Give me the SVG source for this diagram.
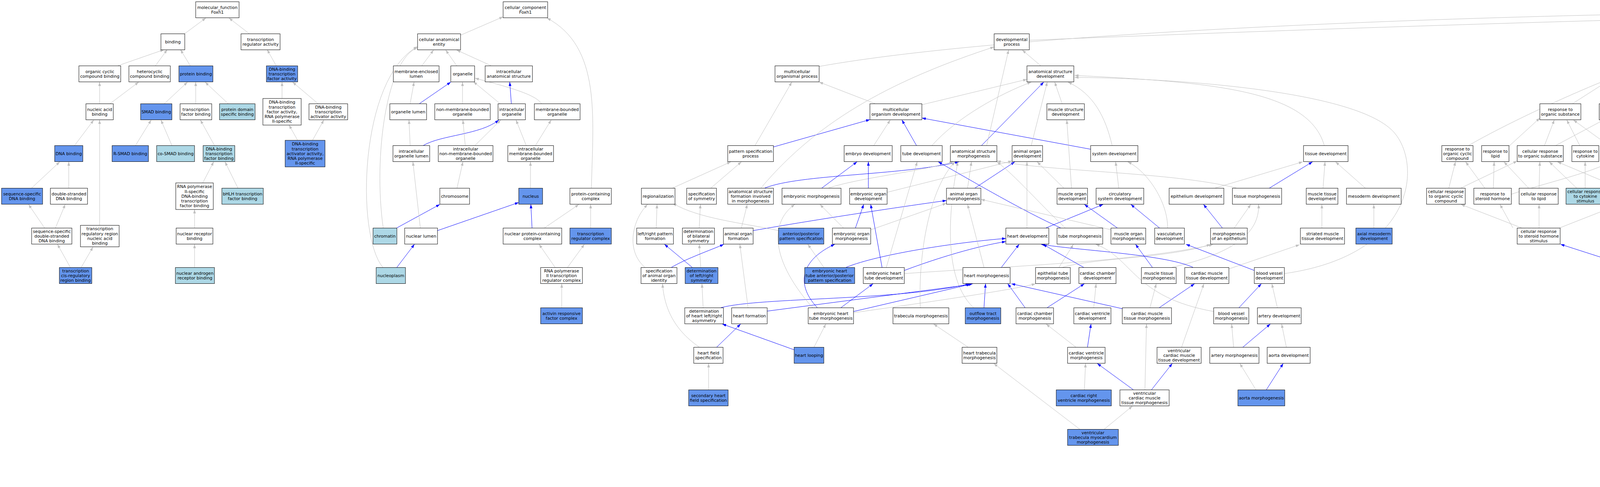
<svg xmlns="http://www.w3.org/2000/svg" width="7680" height="1246" viewBox="0 0 7680 1246">
<style>
rect{fill:#fff;stroke:#000;stroke-width:1}
rect.c{fill:#6495ed}
rect.l{fill:#add8e6}
text{font-family:"DejaVu Sans",Verdana,sans-serif;font-size:10.8px;text-anchor:middle;fill:#000}
#edges path{fill:none;stroke-width:1}
.g{stroke:#c0c0c0;marker-end:url(#mg)}
.b{stroke:#0000ff;marker-end:url(#mb)}
.k{stroke:#000;marker-end:url(#mk)}
.r{stroke:#b22222;marker-end:url(#mr)}
.n{stroke:#228b22;marker-end:url(#mn)}
</style>
<defs>
<marker id="mg" viewBox="0 0 10 7" refX="10" refY="3.5" markerWidth="10" markerHeight="7" markerUnits="userSpaceOnUse" orient="auto"><path d="M0,0L10,3.5L0,7z" fill="#c0c0c0"/></marker>
<marker id="mb" viewBox="0 0 10 7" refX="10" refY="3.5" markerWidth="10" markerHeight="7" markerUnits="userSpaceOnUse" orient="auto"><path d="M0,0L10,3.5L0,7z" fill="#0000ff"/></marker>
<marker id="mk" viewBox="0 0 10 7" refX="10" refY="3.5" markerWidth="10" markerHeight="7" markerUnits="userSpaceOnUse" orient="auto"><path d="M0,0L10,3.5L0,7z" fill="#000"/></marker>
<marker id="mr" viewBox="0 0 10 7" refX="10" refY="3.5" markerWidth="10" markerHeight="7" markerUnits="userSpaceOnUse" orient="auto"><path d="M0,0L10,3.5L0,7z" fill="#b22222"/></marker>
<marker id="mn" viewBox="0 0 10 7" refX="10" refY="3.5" markerWidth="10" markerHeight="7" markerUnits="userSpaceOnUse" orient="auto"><path d="M0,0L10,3.5L0,7z" fill="#228b22"/></marker>
</defs>
<rect x="0" y="0" width="7680" height="1246" style="stroke:none;fill:#fff"/>
<g id="edges">
<path class="g" d="M473,86L527,46"/>
<path class="g" d="M638,86L586,46"/>
<path class="g" d="M302,168L420,127"/>
<path class="g" d="M398,168L428,127"/>
<path class="g" d="M487,168L462,127"/>
<path class="g" d="M707,168L684,127"/>
<path class="g" d="M255,265L255,210"/>
<path class="g" d="M282,265L355,210"/>
<path class="g" d="M421,265L480,210"/>
<path class="g" d="M501,265L501,210"/>
<path class="g" d="M584,265L525,210"/>
<path class="g" d="M722,252L722,210"/>
<path class="g" d="M814,265L749,210"/>
<path class="g" d="M191,372L240,307"/>
<path class="g" d="M255,576L255,307"/>
<path class="g" d="M347,372L387,307"/>
<path class="g" d="M440,372L412,307"/>
<path class="g" d="M549,372L513,307"/>
<path class="g" d="M762,359L740,320"/>
<path class="g" d="M800,359L829,307"/>
<path class="g" d="M81,481L153,414"/>
<path class="g" d="M176,481L176,414"/>
<path class="g" d="M519,468L547,414"/>
<path class="g" d="M609,481L576,414"/>
<path class="g" d="M114,583L73,523"/>
<path class="g" d="M142,583L167,523"/>
<path class="g" d="M498,583L498,536"/>
<path class="g" d="M180,684L147,625"/>
<path class="g" d="M208,684L238,632"/>
<path class="g" d="M498,684L498,625"/>
<path class="g" d="M1179,90L1288,43"/>
<path class="g" d="M1080,168L1110,128"/>
<path class="g" d="M1169,168L1141,128"/>
<path class="g" d="M1257,168L1169,128"/>
<path class="g" d="M1050,265L1060,210"/>
<path class="b" d="M1074,265L1154,210"/>
<path class="g" d="M1184,265L1184,210"/>
<path class="g" d="M1280,265L1212,209"/>
<path class="g" d="M1386,265C1370,240 1290,220 1216,200"/>
<path class="b" d="M1309,265L1305,210"/>
<path class="g" d="M1050,372L1047,307"/>
<path class="b" d="M1084,372C1130,345 1230,345 1277,307"/>
<path class="g" d="M1191,372L1185,307"/>
<path class="g" d="M1216,372L1282,307"/>
<path class="g" d="M1170,481L1185,414"/>
<path class="b" d="M1016,583L1126,523"/>
<path class="g" d="M981,583C955,400 990,150 1069,122"/>
<path class="g" d="M1076,583L1057,414"/>
<path class="b" d="M1120,590L1328,518"/>
<path class="b" d="M1016,684L1061,625"/>
<path class="g" d="M980,684C910,600 920,200 1069,119"/>
<path class="g" d="M1514,481C1518,300 1540,120 1400,46"/>
<path class="g" d="M1347,372L1321,307"/>
<path class="g" d="M1371,372L1411,307"/>
<path class="g" d="M1358,481L1358,414"/>
<path class="b" d="M1362,583L1359,523"/>
<path class="g" d="M1394,583L1482,523"/>
<path class="g" d="M1512,583L1512,523"/>
<path class="g" d="M1421,684L1380,625"/>
<path class="g" d="M1453,684L1496,625"/>
<path class="g" d="M1438,787L1438,726"/>
<path class="g" d="M2097,170C2600,80 3800,35 4741,28"/>
<path class="g" d="M2635,103C3500,68 4300,45 4741,37"/>
<path class="g" d="M1933,372L2027,210"/>
<path class="g" d="M2240,265L2097,210"/>
<path class="g" d="M2360,268L2629,203"/>
<path class="b" d="M1980,376L2227,306"/>
<path class="g" d="M2237,372L2279,307"/>
<path class="b" d="M2346,372L2309,307"/>
<path class="b" d="M2793,382L2360,302"/>
<path class="b" d="M2513,372L2672,210"/>
<path class="g" d="M2386,372C2450,300 2560,240 2640,210"/>
<path class="g" d="M2526,372L2582,128"/>
<path class="g" d="M1948,481C2100,300 2300,200 2545,120"/>
<path class="g" d="M2664,168L2617,128"/>
<path class="g" d="M1722,481L1871,414"/>
<path class="g" d="M1820,481L1898,414"/>
<path class="b" d="M1958,481C2050,445 2300,450 2455,414"/>
<path class="b" d="M2104,481L2194,414"/>
<path class="g" d="M2121,481C2200,455 2350,440 2440,414"/>
<path class="b" d="M2223,481L2223,414"/>
<path class="g" d="M2271,492L2591,412"/>
<path class="g" d="M2477,481L2487,414"/>
<path class="b" d="M2496,481L2598,414"/>
<path class="g" d="M1680,583L1682,523"/>
<path class="g" d="M1790,583L1793,523"/>
<path class="g" d="M1898,583L1913,523"/>
<path class="b" d="M1928,590C2100,560 2300,530 2423,513"/>
<path class="g" d="M1993,590C1900,570 1790,560 1722,520"/>
<path class="b" d="M2190,583L2211,523"/>
<path class="g" d="M2159,583L2099,523"/>
<path class="g" d="M2229,588L2423,520"/>
<path class="g" d="M1651,684C1600,640 1620,560 1658,523"/>
<path class="b" d="M1772,684L1701,625"/>
<path class="g" d="M1794,684L1790,625"/>
<path class="b" d="M1719,684C1760,660 1820,640 1853,625"/>
<path class="g" d="M2109,684L2068,625"/>
<path class="b" d="M2166,684C2250,650 2450,620 2575,610"/>
<path class="g" d="M2269,684L2348,414"/>
<path class="b" d="M2315,692C2400,660 2500,630 2575,618"/>
<path class="b" d="M2258,684L2229,523"/>
<path class="g" d="M2519,684L2477,523"/>
<path class="b" d="M2562,686L2609,625"/>
<path class="b" d="M2519,787L2523,726"/>
<path class="g" d="M2492,787C2400,700 2440,480 2452,414"/>
<path class="b" d="M1846,787C1950,760 2300,770 2482,726"/>
<path class="b" d="M1964,796L2485,728"/>
<path class="b" d="M2185,797L2490,726"/>
<path class="b" d="M2153,787L2235,726"/>
<path class="b" d="M2092,787C2030,720 2060,660 2137,625"/>
<path class="g" d="M2080,787C1960,650 1980,560 2035,523"/>
<path class="g" d="M2185,800C2400,770 2600,740 2651,726"/>
<path class="g" d="M1800,787L1797,726"/>
<path class="g" d="M1915,787L1894,625"/>
<path class="g" d="M1790,888C1720,840 1700,780 1696,726"/>
<path class="b" d="M1835,888L1896,829"/>
<path class="b" d="M2033,895L1849,829"/>
<path class="g" d="M2084,888L2114,829"/>
<path class="g" d="M1814,997L1814,930"/>
<path class="g" d="M2356,787C2350,650 2380,480 2445,414"/>
<path class="g" d="M2478,888L2390,829"/>
<path class="g" d="M2764,1098L2544,930"/>
<path class="g" d="M2827,1098L2899,1039"/>
<path class="g" d="M2315,700C2600,680 2900,670 3105,626"/>
<path class="g" d="M2719,265L2700,210"/>
<path class="g" d="M2640,372L2681,210"/>
<path class="g" d="M2847,372C2830,300 2800,240 2734,210"/>
<path class="g" d="M3390,372C3350,230 3100,210 2751,193"/>
<path class="g" d="M3288,700C3640,650 3640,400 3560,330C3450,230 3000,200 2751,198"/>
<path class="g" d="M2723,481L2655,414"/>
<path class="g" d="M2743,481L2731,307"/>
<path class="g" d="M2864,481L2856,414"/>
<path class="b" d="M2968,583L2895,523"/>
<path class="g" d="M2989,583C2990,520 2940,440 2887,414"/>
<path class="g" d="M2629,583L2629,414"/>
<path class="b" d="M2678,583L2824,523"/>
<path class="b" d="M2715,583C2620,540 2500,470 2402,414"/>
<path class="g" d="M2727,583C2660,520 2600,450 2552,414"/>
<path class="b" d="M2860,583L2776,523"/>
<path class="g" d="M2845,588L2511,510"/>
<path class="g" d="M3111,481L3335,414"/>
<path class="b" d="M3250,481L3360,414"/>
<path class="g" d="M3165,481C3000,440 2700,440 2552,412"/>
<path class="g" d="M3387,481L3392,414"/>
<path class="g" d="M3495,481L3419,414"/>
<path class="b" d="M3129,583L3081,523"/>
<path class="g" d="M3160,583L3202,523"/>
<path class="g" d="M3384,583L3384,523"/>
<path class="g" d="M3517,583L3517,523"/>
<path class="g" d="M2711,684L2748,625"/>
<path class="g" d="M2720,684C2800,660 3000,660 3099,625"/>
<path class="b" d="M2774,684L2670,625"/>
<path class="b" d="M2950,684L2907,625"/>
<path class="g" d="M3000,684C3150,650 3225,600 3222,523"/>
<path class="b" d="M3054,684C2980,650 2750,640 2665,625"/>
<path class="g" d="M3146,688L3327,626"/>
<path class="b" d="M3211,692L3036,625"/>
<path class="b" d="M2624,787L2580,726"/>
<path class="b" d="M2681,787L2776,726"/>
<path class="g" d="M2800,787L2806,726"/>
<path class="b" d="M2874,790L2589,726"/>
<path class="b" d="M2968,787L3058,726"/>
<path class="g" d="M2944,787L2960,726"/>
<path class="b" d="M3172,787L3229,726"/>
<path class="g" d="M3107,797C2900,760 2900,660 2805,625"/>
<path class="g" d="M3270,787L3256,726"/>
<path class="g" d="M2754,888L2678,829"/>
<path class="b" d="M2784,888L2793,829"/>
<path class="g" d="M3025,888L3082,726"/>
<path class="g" d="M3158,888L3153,829"/>
<path class="b" d="M3182,888L3252,829"/>
<path class="g" d="M3293,888L3281,829"/>
<path class="g" d="M2776,997L2779,930"/>
<path class="b" d="M2901,997L2809,930"/>
<path class="b" d="M2948,997L3001,930"/>
<path class="g" d="M2931,997L2935,829"/>
<path class="g" d="M3215,997L3174,930"/>
<path class="b" d="M3242,997L3285,930"/>
<path class="g" d="M3709,481L3726,414"/>
<path class="g" d="M3740,481L3884,412"/>
<path class="g" d="M3801,481L3752,414"/>
<path class="g" d="M3823,481L3825,414"/>
<path class="g" d="M3869,497C3950,470 4080,440 4122,414"/>
<path class="g" d="M3760,372C3850,320 4000,250 4109,206"/>
<path class="g" d="M3863,374L3942,302"/>
<path class="g" d="M4546,94L4741,44"/>
<path class="g" d="M4860,86L4820,46"/>
<path class="g" d="M5030,91L4848,44"/>
<path class="g" d="M4178,180L4478,117"/>
<path class="g" d="M4613,168L4547,128"/>
<path class="g" d="M4696,178L5030,117"/>
<path class="g" d="M4848,168L4870,128"/>
<path class="k" d="M4815,168L4799,46"/>
<path class="r" d="M4789,265C4740,200 4740,100 4778,46"/>
<path class="n" d="M5349,265C5250,170 5150,60 4847,27"/>
<path class="g" d="M4026,265L4112,210"/>
<path class="g" d="M4143,265L4143,210"/>
<path class="g" d="M4192,263C4300,230 4500,210 4597,194"/>
<path class="g" d="M4326,265L4489,128"/>
<path class="k" d="M4474,265L4505,128"/>
<path class="g" d="M4507,270L4767,203"/>
<path class="g" d="M4693,270C4800,220 4950,160 5040,127"/>
<path class="g" d="M4815,265L4815,210"/>
<path class="g" d="M5038,265L5067,128"/>
<path class="k" d="M5148,265L5090,128"/>
<path class="g" d="M5112,272L4870,203"/>
<path class="r" d="M5200,372C5225,300 5200,200 5115,128"/>
<path class="n" d="M5315,372C5270,280 5200,180 5122,122"/>
<path class="g" d="M3954,372L3979,307"/>
<path class="g" d="M3983,372L4105,307"/>
<path class="g" d="M4044,372L4011,307"/>
<path class="g" d="M4118,372L4028,307"/>
<path class="g" d="M4177,372L4269,307"/>
<path class="g" d="M4264,372L4289,307"/>
<path class="g" d="M4352,372L4318,307"/>
<path class="g" d="M4513,372L4485,307"/>
<path class="r" d="M4522,372L4512,128"/>
<path class="g" d="M4580,375L4758,295"/>
<path class="k" d="M4677,372L4669,307"/>
<path class="g" d="M4707,480C4600,440 4430,420 4455,307"/>
<path class="b" d="M4809,372L4690,307"/>
<path class="b" d="M4809,372C4740,300 4760,260 4668,210"/>
<path class="b" d="M4874,372L4999,307"/>
<path class="g" d="M4856,372L5056,128"/>
<path class="k" d="M5052,372L5040,307"/>
<path class="g" d="M3940,481L3942,414"/>
<path class="g" d="M3913,481L3850,414"/>
<path class="g" d="M4058,481L4058,414"/>
<path class="g" d="M4036,481L3966,414"/>
<path class="g" d="M4179,481L4158,414"/>
<path class="g" d="M4200,481L4240,414"/>
<path class="g" d="M4146,481L3987,414"/>
<path class="g" d="M4327,481L4354,414"/>
<path class="g" d="M4305,481L4269,414"/>
<path class="g" d="M4411,475L4379,414"/>
<path class="g" d="M4603,481L4662,414"/>
<path class="r" d="M4593,481L4653,307"/>
<path class="g" d="M4632,481L4800,307"/>
<path class="g" d="M4746,481L4699,414"/>
<path class="k" d="M4779,481L4824,414"/>
<path class="g" d="M4817,481L5003,414"/>
<path class="g" d="M4950,481L4865,414"/>
<path class="g" d="M5164,481L5180,414"/>
<path class="r" d="M5110,481C4990,420 4990,340 5016,307"/>
<path class="g" d="M5120,481L5081,414"/>
<path class="g" d="M3940,583L3940,523"/>
<path class="g" d="M3993,583L4146,523"/>
<path class="g" d="M3873,583L3840,523"/>
<path class="g" d="M3895,583L3740,523"/>
<path class="b" d="M4235,583L4202,523"/>
<path class="g" d="M4301,590C4600,560 4640,500 4793,414"/>
<path class="g" d="M4428,576L4428,530"/>
<path class="g" d="M4402,576L4344,523"/>
<path class="g" d="M4775,583L4768,523"/>
<path class="r" d="M4799,583C4810,520 4830,460 4840,414"/>
<path class="g" d="M4738,583L4628,523"/>
<path class="g" d="M4842,590L5093,521"/>
<path class="g" d="M4718,594C4550,560 4510,500 4513,414"/>
<path class="g" d="M4975,583L4975,523"/>
<path class="g" d="M4246,684L4246,625"/>
<path class="b" d="M4191,688L3995,625"/>
<path class="g" d="M4762,692C4860,660 4860,500 4853,414"/>
<path class="g" d="M4971,671L4973,625"/>
<path class="g" d="M4710,780L4710,726"/>
<path class="g" d="M4658,792L4301,720"/>
<path class="b" d="M4902,780C4800,680 4600,620 4478,607"/>
<path class="g" d="M4936,780L4950,739"/>
<path class="g" d="M4575,888L4662,836"/>
<path class="k" d="M4678,875L4697,836"/>
<path class="g" d="M4652,875C4630,720 4640,600 4738,523"/>
<path class="g" d="M4844,888L4756,836"/>
<path class="k" d="M4603,997L4556,930"/>
<path class="g" d="M4628,997L4651,943"/>
<path class="g" d="M4722,984L4693,943"/>
<path class="r" d="M4744,984L4719,836"/>
<path class="g" d="M4754,984L4779,625"/>
<path class="k" d="M4877,990L4877,930"/>
<path class="g" d="M4828,990L4718,939"/>
<path class="r" d="M4585,1091C4540,1050 4538,980 4538,930"/>
<path class="g" d="M4618,1091L4618,1039"/>
<path class="g" d="M4653,1091L4705,1052"/>
<path class="g" d="M4878,1091L4878,1046"/>
<path class="g" d="M4824,1091L4791,1052"/>
<path class="r" d="M4912,1091C4960,1020 4940,960 4905,930"/>
<path class="g" d="M5951,1017C5500,1015 5250,980 5120,891C5060,840 5050,720 5035,600C5010,400 4900,200 4886,128"/>
<path class="g" d="M5990,102C5600,70 5200,50 4847,38"/>
<path class="g" d="M6108,168L6067,128"/>
<path class="g" d="M6075,185L5122,112"/>
<path class="g" d="M6200,169L6100,128"/>
<path class="k" d="M5865,265L6020,128"/>
<path class="g" d="M5788,274L4870,198"/>
<path class="g" d="M5977,265L6034,128"/>
<path class="g" d="M6251,265L6165,210"/>
<path class="g" d="M5185,372L5165,307"/>
<path class="g" d="M5135,380L4870,300"/>
<path class="g" d="M5291,372L5193,307"/>
<path class="g" d="M5332,372L5357,307"/>
<path class="g" d="M5549,374L5788,303"/>
<path class="n" d="M5504,372C5600,250 5800,150 5990,115"/>
<path class="g" d="M5471,372L5392,307"/>
<path class="g" d="M5701,372L5808,307"/>
<path class="g" d="M5612,378L5202,303"/>
<path class="k" d="M5671,372C5720,260 5800,210 6075,197"/>
<path class="k" d="M5781,372C5740,280 5800,215 6205,208"/>
<path class="n" d="M5448,481C5400,400 5420,300 5600,260C5800,220 6000,200 6075,193"/>
<path class="r" d="M5640,481C5580,400 5600,280 5800,230C5950,205 6020,195 6075,192"/>
<path class="r" d="M6053,372L6045,128"/>
<path class="g" d="M6010,372L5875,307"/>
<path class="g" d="M5904,372L5859,307"/>
<path class="k" d="M5932,372L5961,307"/>
<path class="g" d="M5804,372L5830,307"/>
<path class="g" d="M6318,372L6296,307"/>
<path class="g" d="M6345,372L6400,307"/>
<path class="g" d="M6261,378L6022,302"/>
<path class="g" d="M5496,481L5496,414"/>
<path class="g" d="M5447,481L5357,414"/>
<path class="g" d="M5516,481L5630,414"/>
<path class="g" d="M5667,481L5665,414"/>
<path class="g" d="M5612,486L5234,414"/>
<path class="g" d="M5724,481L6014,414"/>
<path class="g" d="M5802,474L5796,414"/>
<path class="g" d="M5747,474L5549,414"/>
<path class="n" d="M5860,474C6000,450 6150,420 6180,330C6200,270 6215,230 6240,210"/>
<path class="g" d="M5928,474L5830,414"/>
<path class="k" d="M6014,476L6261,414"/>
<path class="g" d="M5944,474L5932,414"/>
<path class="g" d="M6090,474L6067,414"/>
<path class="r" d="M6155,474C6220,400 6210,300 6240,210"/>
<path class="g" d="M6042,477L5830,414"/>
<path class="g" d="M5887,576L5842,530"/>
<path class="g" d="M5930,576L5940,530"/>
<path class="n" d="M5993,587C6150,560 6200,480 6285,414"/>
<path class="g" d="M5849,593L5536,523"/>
<path class="g" d="M6083,576L6002,530"/>
<path class="g" d="M6120,576L6112,530"/>
<path class="r" d="M6169,576L6310,414"/>
<path class="g" d="M6436,790L5993,634"/>
<path class="g" d="M6570,788L6202,634"/>
<path class="g" d="M6473,705C6100,690 5985,600 5975,531"/>
<path class="g" d="M6331,595C6000,560 5700,500 5549,414"/>
<path class="g" d="M6460,590C6300,560 6200,450 6111,414"/>
<path class="g" d="M6359,492C6200,450 6000,420 5893,306"/>
<path class="g" d="M6814,490C6400,445 5900,430 5716,412"/>
<path class="g" d="M6530,481L6360,414"/>
<path class="g" d="M6047,1186L6018,1140"/>
<path class="g" d="M6083,1186L6106,1146"/>
<path class="g" d="M6006,1098L6006,1039"/>
<path class="g" d="M6091,1091L6030,1039"/>
<path class="g" d="M6164,1119C6700,1115 7250,1090 7380,1039"/>
<path class="g" d="M6766,181L6096,112"/>
<path class="g" d="M7024,180C6600,150 6300,125 6096,118"/>
<path class="g" d="M6502,270L6311,206"/>
<path class="g" d="M6520,265L6179,205"/>
<path class="g" d="M6727,265L6796,210"/>
<path class="g" d="M6890,265L7024,208"/>
<path class="g" d="M6785,274L6179,203"/>
<path class="g" d="M6967,265L6857,210"/>
<path class="g" d="M7029,265L7051,210"/>
<path class="g" d="M6420,372L6296,307"/>
<path class="g" d="M6430,372L6802,307"/>
<path class="g" d="M6514,372L6449,307"/>
<path class="g" d="M6563,372L6800,307"/>
<path class="g" d="M6678,372L6592,307"/>
<path class="g" d="M6735,372L6806,307"/>
<path class="g" d="M6830,372L6735,307"/>
<path class="g" d="M6894,372L6988,307"/>
<path class="k" d="M7069,372C7130,320 7120,250 7090,210"/>
<path class="g" d="M6997,380C6600,340 6100,310 5893,300"/>
<path class="g" d="M7430,481C7410,400 7300,340 7071,293"/>
<path class="g" d="M7270,372C7100,330 6950,260 6840,210"/>
<path class="g" d="M7264,385C6800,330 6300,320 6021,298"/>
<path class="g" d="M7214,495C6800,440 6500,430 6390,412"/>
<path class="g" d="M7278,481L7302,414"/>
<path class="g" d="M7427,481L7370,414"/>
<path class="g" d="M7506,481L7370,414"/>
<path class="r" d="M6572,587C6900,565 7200,560 7330,414"/>
<path class="k" d="M6465,495C6600,430 6900,440 7264,405"/>
<path class="n" d="M6437,587C6800,560 7100,520 7290,414"/>
<path class="r" d="M7077,481C7140,440 7130,260 7097,210"/>
<path class="k" d="M6914,481C7090,440 7080,330 6880,307"/>
<path class="n" d="M6731,481C6960,440 6920,350 7090,330C7100,280 7080,240 7070,210"/>
<path class="k" d="M6726,588C6900,570 7300,560 7394,523"/>
<path class="n" d="M6898,580C7100,510 7100,330 6880,307"/>
<path class="r" d="M7074,590C7160,480 7110,330 6880,307"/>
<path class="g" d="M7267,583L7267,523"/>
<path class="k" d="M7482,583L7527,523"/>
<path class="g" d="M7419,592C7000,560 6700,540 6465,510"/>
<path class="k" d="M6560,690C6700,650 7100,630 7224,614"/>
<path class="n" d="M6736,698C6900,660 7300,600 7394,523"/>
<path class="r" d="M7045,680C7200,600 7350,560 7400,523"/>
<path class="g" d="M7267,684L7267,625"/>
<path class="g" d="M7286,684L7404,523"/>
<path class="n" d="M6539,788C7000,775 7060,700 7224,618"/>
<path class="r" d="M6678,800C7000,770 7100,720 7248,625"/>
<path class="k" d="M6972,794L7217,724"/>
<path class="n" d="M6914,888L7229,726"/>
<path class="r" d="M7094,888C7220,840 7250,800 7264,726"/>
<path class="g" d="M7331,787L7286,726"/>
<path class="b" d="M7347,787C7350,650 7400,560 7502,523"/>
<path class="k" d="M7271,888L7328,829"/>
<path class="g" d="M7184,895L6975,829"/>
<path class="g" d="M7486,888L7384,829"/>
<path class="n" d="M7104,997C7130,900 7200,850 7282,829"/>
<path class="g" d="M7129,997L7220,930"/>
<path class="g" d="M7086,997L6914,930"/>
<path class="r" d="M7287,997C7340,940 7347,880 7347,829"/>
<path class="g" d="M7257,997L7253,930"/>
<path class="g" d="M7208,990L7086,930"/>
<path class="g" d="M7371,997L7282,930"/>
<path class="k" d="M7424,997L7498,930"/>
<path class="g" d="M7408,997L7461,625"/>
<path class="g" d="M7592,997L7539,930"/>
<path class="g" d="M7233,1105L7139,1039"/>
<path class="g" d="M7310,1098L7371,1039"/>
<path class="n" d="M7331,1100C7440,1060 7490,1000 7511,930"/>
<path class="g" d="M7371,1098L7298,1039"/>
<path class="g" d="M7412,1098L7407,1039"/>
<path class="r" d="M7451,1098C7510,1040 7520,980 7520,930"/>
<path class="k" d="M7599,1091L7608,1039"/>
<path class="g" d="M7543,1091L7440,1039"/>
<path class="n" d="M7489,1186C7500,1130 7540,1090 7580,1039"/>
<path class="g" d="M7515,1186L7563,1147"/>
<path class="g" d="M7427,1189L7331,1140"/>
<path class="r" d="M7640,1186C7670,1130 7670,1080 7630,1039"/>
<path class="g" d="M7611,1186L7602,1147"/>
<path class="g" d="M7562,1186L7467,1140"/>
<path class="g" d="M6510,481L6460,414"/>
<path class="g" d="M6560,481L6563,414"/>
<path class="g" d="M6600,481L6680,414"/>
<path class="g" d="M6731,481L6999,414"/>
<path class="g" d="M7033,481L7041,414"/>
<path class="g" d="M6860,481L7010,414"/>
<path class="g" d="M6792,576L6731,523"/>
<path class="g" d="M6853,576L6861,523"/>
<path class="g" d="M6980,576L6906,523"/>
<path class="g" d="M7029,576L7045,523"/>
<path class="g" d="M6681,677L6681,632"/>
<path class="g" d="M6955,677L6726,632"/>
<path class="g" d="M6922,787C6930,700 6910,600 6898,523"/>
<path class="g" d="M6873,794L6560,722"/>
<path class="g" d="M6882,888L6910,829"/>
<path class="g" d="M6857,888L6706,732"/>
<path class="g" d="M6816,899L6539,829"/>
<path class="g" d="M7008,888L6949,829"/>
<path class="g" d="M7037,888L7016,732"/>
<path class="g" d="M6987,899L6678,819"/>
<path class="g" d="M6496,787L6506,726"/>
<path class="g" d="M6596,787L6540,726"/>
</g>
<g id="n1"><rect x="501" y="4.5" width="111" height="41"/><text x="556.5" y="22.7">molecular_function<tspan x="556.5" dy="12.3">Foxh1</tspan></text></g>
<g id="n2"><rect x="412" y="86.5" width="61" height="41"/><text x="442.5" y="110.8">binding</text></g>
<g id="n3"><rect x="617" y="86.5" width="100" height="41"/><text x="667" y="104.7">transcription<tspan x="667" dy="12.3">regulator activity</tspan></text></g>
<g id="n4"><rect x="202" y="168.5" width="107" height="41"/><text x="255.5" y="186.7">organic cyclic<tspan x="255.5" dy="12.3">compound binding</tspan></text></g>
<g id="n5"><rect x="330" y="168.5" width="106" height="41"/><text x="383" y="186.7">heterocyclic<tspan x="383" dy="12.3">compound binding</tspan></text></g>
<g id="n6"><rect class="c" x="458" y="168.5" width="87" height="41"/><text x="501.5" y="192.8">protein binding</text></g>
<g id="n7"><rect class="c" x="682" y="168.5" width="80" height="41"/><text x="722" y="180.5">DNA-binding<tspan x="722" dy="12.3">transcription</tspan><tspan x="722" dy="12.3">factor activity</tspan></text></g>
<g id="n8"><rect x="1069" y="86.5" width="110" height="41"/><text x="1124" y="104.7">cellular anatomical<tspan x="1124" dy="12.3">entity</tspan></text></g>
<g id="n9"><rect x="1007" y="168.5" width="117" height="41"/><text x="1065.5" y="186.7">membrane-enclosed<tspan x="1065.5" dy="12.3">lumen</tspan></text></g>
<g id="n10"><rect x="1154" y="168.5" width="61" height="41"/><text x="1184.5" y="192.8">organelle</text></g>
<g id="n11"><rect x="1242" y="168.5" width="121" height="41"/><text x="1302.5" y="186.7">intracellular<tspan x="1302.5" dy="12.3">anatomical structure</tspan></text></g>
<g id="n12"><rect x="220" y="265.5" width="70" height="41"/><text x="255" y="283.7">nucleic acid<tspan x="255" dy="12.3">binding</tspan></text></g>
<g id="n13"><rect class="c" x="360" y="265.5" width="80" height="41"/><text x="400" y="289.8">SMAD binding</text></g>
<g id="n14"><rect x="461" y="265.5" width="81" height="41"/><text x="501.5" y="283.7">transcription<tspan x="501.5" dy="12.3">factor binding</tspan></text></g>
<g id="n15"><rect class="l" x="562" y="265.5" width="91" height="41"/><text x="607.5" y="283.7">protein domain<tspan x="607.5" dy="12.3">specific binding</tspan></text></g>
<g id="n16"><rect x="673" y="252" width="98" height="68"/><text x="722" y="265.2">DNA-binding<tspan x="722" dy="12.3">transcription</tspan><tspan x="722" dy="12.3">factor activity,</tspan><tspan x="722" dy="12.3">RNA polymerase</tspan><tspan x="722" dy="12.3">II-specific</tspan></text></g>
<g id="n17"><rect x="791" y="265.5" width="99" height="41"/><text x="840.5" y="277.5">DNA-binding<tspan x="840.5" dy="12.3">transcription</tspan><tspan x="840.5" dy="12.3">activator activity</tspan></text></g>
<g id="n18"><rect x="998" y="265.5" width="94" height="41"/><text x="1045" y="289.8">organelle lumen</text></g>
<g id="n19"><rect x="1113" y="265.5" width="142" height="41"/><text x="1184" y="283.7">non-membrane-bounded<tspan x="1184" dy="12.3">organelle</tspan></text></g>
<g id="n20"><rect x="1275" y="265.5" width="70" height="41"/><text x="1310" y="283.7">intracellular<tspan x="1310" dy="12.3">organelle</tspan></text></g>
<g id="n21"><rect class="c" x="140" y="372.5" width="72" height="41"/><text x="176" y="396.8">DNA binding</text></g>
<g id="n22"><rect class="c" x="287" y="372.5" width="93" height="41"/><text x="333.5" y="396.8">R-SMAD binding</text></g>
<g id="n23"><rect class="l" x="401" y="372.5" width="97" height="41"/><text x="449.5" y="396.8">co-SMAD binding</text></g>
<g id="n24"><rect class="l" x="520" y="372.5" width="81" height="41"/><text x="560.5" y="384.5">DNA-binding<tspan x="560.5" dy="12.3">transcription</tspan><tspan x="560.5" dy="12.3">factor binding</tspan></text></g>
<g id="n25"><rect class="c" x="730" y="359" width="102" height="68"/><text x="781" y="372.2">DNA-binding<tspan x="781" dy="12.3">transcription</tspan><tspan x="781" dy="12.3">activator activity,</tspan><tspan x="781" dy="12.3">RNA polymerase</tspan><tspan x="781" dy="12.3">II-specific</tspan></text></g>
<g id="n26"><rect x="1006" y="372.5" width="94" height="41"/><text x="1053" y="390.7">intracellular<tspan x="1053" dy="12.3">organelle lumen</tspan></text></g>
<g id="n27"><rect x="1122" y="372.5" width="140" height="41"/><text x="1192" y="384.5">intracellular<tspan x="1192" dy="12.3">non-membrane-bounded</tspan><tspan x="1192" dy="12.3">organelle</tspan></text></g>
<g id="n28"><rect class="c" x="4" y="481.5" width="105" height="41"/><text x="56.5" y="499.7">sequence-specific<tspan x="56.5" dy="12.3">DNA binding</tspan></text></g>
<g id="n29"><rect x="129" y="481.5" width="95" height="41"/><text x="176.5" y="499.7">double-stranded<tspan x="176.5" dy="12.3">DNA binding</tspan></text></g>
<g id="n30"><rect x="450" y="468" width="96" height="68"/><text x="498" y="481.2">RNA polymerase<tspan x="498" dy="12.3">II-specific</tspan><tspan x="498" dy="12.3">DNA-binding</tspan><tspan x="498" dy="12.3">transcription</tspan><tspan x="498" dy="12.3">factor binding</tspan></text></g>
<g id="n31"><rect class="l" x="568" y="481.5" width="106" height="41"/><text x="621" y="499.7">bHLH transcription<tspan x="621" dy="12.3">factor binding</tspan></text></g>
<g id="n32"><rect x="1126" y="481.5" width="76" height="41"/><text x="1164" y="505.8">chromosome</text></g>
<g id="n33"><rect x="81" y="583.5" width="103" height="41"/><text x="132.5" y="595.5">sequence-specific<tspan x="132.5" dy="12.3">double-stranded</tspan><tspan x="132.5" dy="12.3">DNA binding</tspan></text></g>
<g id="n34"><rect x="206" y="576.5" width="99" height="55"/><text x="255.5" y="589.4">transcription<tspan x="255.5" dy="12.3">regulatory region</tspan><tspan x="255.5" dy="12.3">nucleic acid</tspan><tspan x="255.5" dy="12.3">binding</tspan></text></g>
<g id="n35"><rect x="451" y="583.5" width="94" height="41"/><text x="498" y="601.7">nuclear receptor<tspan x="498" dy="12.3">binding</tspan></text></g>
<g id="n36"><rect class="l" x="955" y="583.5" width="61" height="41"/><text x="985.5" y="607.8">chromatin</text></g>
<g id="n37"><rect x="1036" y="583.5" width="84" height="41"/><text x="1078" y="607.8">nuclear lumen</text></g>
<g id="n38"><rect class="c" x="152" y="684.5" width="83" height="41"/><text x="193.5" y="696.5">transcription<tspan x="193.5" dy="12.3">cis-regulatory</tspan><tspan x="193.5" dy="12.3">region binding</tspan></text></g>
<g id="n39"><rect class="l" x="449" y="684.5" width="100" height="41"/><text x="499" y="702.7">nuclear androgen<tspan x="499" dy="12.3">receptor binding</tspan></text></g>
<g id="n40"><rect class="l" x="963" y="684.5" width="75" height="41"/><text x="1000.5" y="708.8">nucleoplasm</text></g>
<g id="n41"><rect x="1288" y="4.5" width="114" height="41"/><text x="1345" y="22.7">cellular_component<tspan x="1345" dy="12.3">Foxh1</tspan></text></g>
<g id="n42"><rect x="1368" y="265.5" width="117" height="41"/><text x="1426.5" y="283.7">membrane-bounded<tspan x="1426.5" dy="12.3">organelle</tspan></text></g>
<g id="n43"><rect x="1300" y="372.5" width="117" height="41"/><text x="1358.5" y="384.5">intracellular<tspan x="1358.5" dy="12.3">membrane-bounded</tspan><tspan x="1358.5" dy="12.3">organelle</tspan></text></g>
<g id="n44"><rect class="c" x="1328" y="481.5" width="61" height="41"/><text x="1358.5" y="505.8">nucleus</text></g>
<g id="n45"><rect x="1459" y="481.5" width="106" height="41"/><text x="1512" y="499.7">protein-containing<tspan x="1512" dy="12.3">complex</tspan></text></g>
<g id="n46"><rect x="1288" y="583.5" width="150" height="41"/><text x="1363" y="601.7">nuclear protein-containing<tspan x="1363" dy="12.3">complex</tspan></text></g>
<g id="n47"><rect class="c" x="1459" y="583.5" width="106" height="41"/><text x="1512" y="601.7">transcription<tspan x="1512" dy="12.3">regulator complex</tspan></text></g>
<g id="n48"><rect x="1384" y="684.5" width="107" height="41"/><text x="1437.5" y="696.5">RNA polymerase<tspan x="1437.5" dy="12.3">II transcription</tspan><tspan x="1437.5" dy="12.3">regulator complex</tspan></text></g>
<g id="n49"><rect class="c" x="1384" y="787.5" width="107" height="41"/><text x="1437.5" y="805.7">activin responsive<tspan x="1437.5" dy="12.3">factor complex</tspan></text></g>
<g id="n50"><rect x="1984" y="168.5" width="113" height="41"/><text x="2040.5" y="186.7">multicellular<tspan x="2040.5" dy="12.3">organismal process</tspan></text></g>
<g id="n51"><rect x="2227" y="265.5" width="133" height="41"/><text x="2293.5" y="283.7">multicellular<tspan x="2293.5" dy="12.3">organism development</tspan></text></g>
<g id="n52"><rect x="2545" y="86.5" width="90" height="41"/><text x="2590" y="104.7">developmental<tspan x="2590" dy="12.3">process</tspan></text></g>
<g id="n53"><rect x="1863" y="372.5" width="117" height="41"/><text x="1921.5" y="390.7">pattern specification<tspan x="1921.5" dy="12.3">process</tspan></text></g>
<g id="n54"><rect x="2161" y="372.5" width="123" height="41"/><text x="2222.5" y="396.8">embryo development</text></g>
<g id="n55"><rect x="2306" y="372.5" width="106" height="41"/><text x="2359" y="396.8">tube development</text></g>
<g id="n56"><rect x="2433" y="372.5" width="119" height="41"/><text x="2492.5" y="390.7">anatomical structure<tspan x="2492.5" dy="12.3">morphogenesis</tspan></text></g>
<g id="n57"><rect x="1642" y="481.5" width="86" height="41"/><text x="1685" y="505.8">regionalization</text></g>
<g id="n58"><rect x="1758" y="481.5" width="76" height="41"/><text x="1796" y="499.7">specification<tspan x="1796" dy="12.3">of symmetry</tspan></text></g>
<g id="n59"><rect x="1863" y="481.5" width="117" height="41"/><text x="1921.5" y="493.5">anatomical structure<tspan x="1921.5" dy="12.3">formation involved</tspan><tspan x="1921.5" dy="12.3">in morphogenesis</tspan></text></g>
<g id="n60"><rect x="2002" y="481.5" width="151" height="41"/><text x="2077.5" y="505.8">embryonic morphogenesis</text></g>
<g id="n61"><rect x="2175" y="481.5" width="96" height="41"/><text x="2223" y="499.7">embryonic organ<tspan x="2223" dy="12.3">development</tspan></text></g>
<g id="n62"><rect x="2423" y="481.5" width="88" height="41"/><text x="2467" y="499.7">animal organ<tspan x="2467" dy="12.3">morphogenesis</tspan></text></g>
<g id="n63"><rect x="1630" y="583.5" width="94" height="41"/><text x="1677" y="601.7">left/right pattern<tspan x="1677" dy="12.3">formation</tspan></text></g>
<g id="n64"><rect x="1747" y="583.5" width="82" height="41"/><text x="1788" y="595.5">determination<tspan x="1788" dy="12.3">of bilateral</tspan><tspan x="1788" dy="12.3">symmetry</tspan></text></g>
<g id="n65"><rect x="1852" y="583.5" width="76" height="41"/><text x="1890" y="601.7">animal organ<tspan x="1890" dy="12.3">formation</tspan></text></g>
<g id="n66"><rect class="c" x="1993" y="583.5" width="116" height="41"/><text x="2051" y="601.7">anterior/posterior<tspan x="2051" dy="12.3">pattern specification</tspan></text></g>
<g id="n67"><rect x="2131" y="583.5" width="98" height="41"/><text x="2180" y="601.7">embryonic organ<tspan x="2180" dy="12.3">morphogenesis</tspan></text></g>
<g id="n68"><rect x="1641" y="684.5" width="92" height="41"/><text x="1687" y="696.5">specification<tspan x="1687" dy="12.3">of animal organ</tspan><tspan x="1687" dy="12.3">identity</tspan></text></g>
<g id="n69"><rect class="c" x="1754" y="684.5" width="84" height="41"/><text x="1796" y="696.5">determination<tspan x="1796" dy="12.3">of left/right</tspan><tspan x="1796" dy="12.3">symmetry</tspan></text></g>
<g id="n70"><rect class="c" x="2060" y="684.5" width="128" height="41"/><text x="2124" y="696.5">embryonic heart<tspan x="2124" dy="12.3">tube anterior/posterior</tspan><tspan x="2124" dy="12.3">pattern specification</tspan></text></g>
<g id="n71"><rect x="2210" y="684.5" width="105" height="41"/><text x="2262.5" y="702.7">embryonic heart<tspan x="2262.5" dy="12.3">tube development</tspan></text></g>
<g id="n72"><rect x="2465" y="684.5" width="121" height="41"/><text x="2525.5" y="708.8">heart morphogenesis</text></g>
<g id="n73"><rect x="1753" y="787.5" width="99" height="41"/><text x="1802.5" y="799.5">determination<tspan x="1802.5" dy="12.3">of heart left/right</tspan><tspan x="1802.5" dy="12.3">asymmetry</tspan></text></g>
<g id="n74"><rect x="1873" y="787.5" width="91" height="41"/><text x="1918.5" y="811.8">heart formation</text></g>
<g id="n75"><rect x="2069" y="787.5" width="116" height="41"/><text x="2127" y="805.7">embryonic heart<tspan x="2127" dy="12.3">tube morphogenesis</tspan></text></g>
<g id="n76"><rect x="2286" y="787.5" width="143" height="41"/><text x="2357.5" y="811.8">trabecula morphogenesis</text></g>
<g id="n77"><rect class="c" x="2471" y="787.5" width="91" height="41"/><text x="2516.5" y="805.7">outflow tract<tspan x="2516.5" dy="12.3">morphogenesis</tspan></text></g>
<g id="n78"><rect x="1776" y="888.5" width="75" height="41"/><text x="1813.5" y="906.7">heart field<tspan x="1813.5" dy="12.3">specification</tspan></text></g>
<g id="n79"><rect class="c" x="2033" y="888.5" width="76" height="41"/><text x="2071" y="912.8">heart looping</text></g>
<g id="n80"><rect x="2463" y="888.5" width="89" height="41"/><text x="2507.5" y="906.7">heart trabecula<tspan x="2507.5" dy="12.3">morphogenesis</tspan></text></g>
<g id="n81"><rect class="c" x="1763" y="997.5" width="101" height="41"/><text x="1813.5" y="1015.7">secondary heart<tspan x="1813.5" dy="12.3">field specification</tspan></text></g>
<g id="n82"><rect x="2629" y="168.5" width="120" height="41"/><text x="2689" y="186.7">anatomical structure<tspan x="2689" dy="12.3">development</tspan></text></g>
<g id="n83"><rect x="2680" y="265.5" width="96" height="41"/><text x="2728" y="283.7">muscle structure<tspan x="2728" dy="12.3">development</tspan></text></g>
<g id="n84"><rect x="2591" y="372.5" width="78" height="41"/><text x="2630" y="390.7">animal organ<tspan x="2630" dy="12.3">development</tspan></text></g>
<g id="n85"><rect x="2792" y="372.5" width="121" height="41"/><text x="2852.5" y="396.8">system development</text></g>
<g id="n86"><rect x="3337" y="372.5" width="114" height="41"/><text x="3394" y="396.8">tissue development</text></g>
<g id="n87"><rect x="3691" y="372.5" width="80" height="41"/><text x="3731" y="384.5">response to<tspan x="3731" dy="12.3">organic cyclic</tspan><tspan x="3731" dy="12.3">compound</tspan></text></g>
<g id="n88"><rect x="3793" y="372.5" width="70" height="41"/><text x="3828" y="390.7">response to<tspan x="3828" dy="12.3">lipid</tspan></text></g>
<g id="n89"><rect x="2706" y="481.5" width="78" height="41"/><text x="2745" y="499.7">muscle organ<tspan x="2745" dy="12.3">development</tspan></text></g>
<g id="n90"><rect x="2806" y="481.5" width="122" height="41"/><text x="2867" y="499.7">circulatory<tspan x="2867" dy="12.3">system development</tspan></text></g>
<g id="n91"><rect x="2993" y="481.5" width="140" height="41"/><text x="3063" y="505.8">epithelium development</text></g>
<g id="n92"><rect x="3155" y="481.5" width="126" height="41"/><text x="3218" y="505.8">tissue morphogenesis</text></g>
<g id="n93"><rect x="3344" y="481.5" width="81" height="41"/><text x="3384.5" y="499.7">muscle tissue<tspan x="3384.5" dy="12.3">development</tspan></text></g>
<g id="n94"><rect x="3447" y="481.5" width="140" height="41"/><text x="3517" y="505.8">mesoderm development</text></g>
<g id="n95"><rect x="3652" y="481.5" width="99" height="41"/><text x="3701.5" y="493.5">cellular response<tspan x="3701.5" dy="12.3">to organic cyclic</tspan><tspan x="3701.5" dy="12.3">compound</tspan></text></g>
<g id="n96"><rect x="3773" y="481.5" width="96" height="41"/><text x="3821" y="499.7">response to<tspan x="3821" dy="12.3">steroid hormone</tspan></text></g>
<g id="n97"><rect x="2575" y="583.5" width="110" height="41"/><text x="2630" y="607.8">heart development</text></g>
<g id="n98"><rect x="2706" y="583.5" width="117" height="41"/><text x="2764.5" y="607.8">tube morphogenesis</text></g>
<g id="n99"><rect x="2844" y="583.5" width="89" height="41"/><text x="2888.5" y="601.7">muscle organ<tspan x="2888.5" dy="12.3">morphogenesis</tspan></text></g>
<g id="n100"><rect x="2956" y="583.5" width="76" height="41"/><text x="2994" y="601.7">vasculature<tspan x="2994" dy="12.3">development</tspan></text></g>
<g id="n101"><rect x="3099" y="583.5" width="94" height="41"/><text x="3146" y="601.7">morphogenesis<tspan x="3146" dy="12.3">of an epithelium</tspan></text></g>
<g id="n102"><rect x="3329" y="583.5" width="113" height="41"/><text x="3385.5" y="601.7">striated muscle<tspan x="3385.5" dy="12.3">tissue development</tspan></text></g>
<g id="n103"><rect class="c" x="3471" y="583.5" width="93" height="41"/><text x="3517.5" y="601.7">axial mesoderm<tspan x="3517.5" dy="12.3">development</tspan></text></g>
<g id="n104"><rect x="2651" y="684.5" width="89" height="41"/><text x="2695.5" y="702.7">epithelial tube<tspan x="2695.5" dy="12.3">morphogenesis</tspan></text></g>
<g id="n105"><rect x="2762" y="684.5" width="95" height="41"/><text x="2809.5" y="702.7">cardiac chamber<tspan x="2809.5" dy="12.3">development</tspan></text></g>
<g id="n106"><rect x="2922" y="684.5" width="89" height="41"/><text x="2966.5" y="702.7">muscle tissue<tspan x="2966.5" dy="12.3">morphogenesis</tspan></text></g>
<g id="n107"><rect x="3033" y="684.5" width="113" height="41"/><text x="3089.5" y="702.7">cardiac muscle<tspan x="3089.5" dy="12.3">tissue development</tspan></text></g>
<g id="n108"><rect x="3211" y="684.5" width="77" height="41"/><text x="3249.5" y="702.7">blood vessel<tspan x="3249.5" dy="12.3">development</tspan></text></g>
<g id="n109"><rect x="2601" y="787.5" width="96" height="41"/><text x="2649" y="805.7">cardiac chamber<tspan x="2649" dy="12.3">morphogenesis</tspan></text></g>
<g id="n110"><rect x="2749" y="787.5" width="95" height="41"/><text x="2796.5" y="805.7">cardiac ventricle<tspan x="2796.5" dy="12.3">development</tspan></text></g>
<g id="n111"><rect x="2873" y="787.5" width="126" height="41"/><text x="2936" y="805.7">cardiac muscle<tspan x="2936" dy="12.3">tissue morphogenesis</tspan></text></g>
<g id="n112"><rect x="3107" y="787.5" width="90" height="41"/><text x="3152" y="805.7">blood vessel<tspan x="3152" dy="12.3">morphogenesis</tspan></text></g>
<g id="n113"><rect x="3219" y="787.5" width="112" height="41"/><text x="3275" y="811.8">artery development</text></g>
<g id="n114"><rect x="2733" y="888.5" width="96" height="41"/><text x="2781" y="906.7">cardiac ventricle<tspan x="2781" dy="12.3">morphogenesis</tspan></text></g>
<g id="n115"><rect x="2962" y="888.5" width="113" height="41"/><text x="3018.5" y="900.5">ventricular<tspan x="3018.5" dy="12.3">cardiac muscle</tspan><tspan x="3018.5" dy="12.3">tissue development</tspan></text></g>
<g id="n116"><rect x="3097" y="888.5" width="126" height="41"/><text x="3160" y="912.8">artery morphogenesis</text></g>
<g id="n117"><rect x="3244" y="888.5" width="110" height="41"/><text x="3299" y="912.8">aorta development</text></g>
<g id="n118"><rect class="c" x="2704" y="997.5" width="141" height="41"/><text x="2774.5" y="1015.7">cardiac right<tspan x="2774.5" dy="12.3">ventricle morphogenesis</tspan></text></g>
<g id="n119"><rect x="2867" y="997.5" width="126" height="41"/><text x="2930" y="1009.5">ventricular<tspan x="2930" dy="12.3">cardiac muscle</tspan><tspan x="2930" dy="12.3">tissue morphogenesis</tspan></text></g>
<g id="n120"><rect class="c" x="3169" y="997.5" width="120" height="41"/><text x="3229" y="1021.8">aorta morphogenesis</text></g>
<g id="n121"><rect class="c" x="2733" y="1098.5" width="130" height="41"/><text x="2798" y="1110.5">ventricular<tspan x="2798" dy="12.3">trabecula myocardium</tspan><tspan x="2798" dy="12.3">morphogenesis</tspan></text></g>
<g id="n122"><rect x="4741" y="4.5" width="106" height="41"/><text x="4794" y="22.7">biological_process<tspan x="4794" dy="12.3">Foxh1</tspan></text></g>
<g id="n123"><rect x="4478" y="86.5" width="68" height="41"/><text x="4512" y="104.7">response to<tspan x="4512" dy="12.3">stimulus</tspan></text></g>
<g id="n124"><rect x="4827" y="86.5" width="116" height="41"/><text x="4885" y="110.8">biological regulation</text></g>
<g id="n125"><rect x="5030" y="86.5" width="92" height="41"/><text x="5076" y="110.8">cellular process</text></g>
<g id="n126"><rect x="4109" y="168.5" width="69" height="41"/><text x="4143.5" y="186.7">response to<tspan x="4143.5" dy="12.3">chemical</tspan></text></g>
<g id="n127"><rect x="4597" y="168.5" width="99" height="41"/><text x="4646.5" y="186.7">cellular response<tspan x="4646.5" dy="12.3">to stimulus</tspan></text></g>
<g id="n128"><rect x="4767" y="168.5" width="103" height="41"/><text x="4818.5" y="186.7">regulation of<tspan x="4818.5" dy="12.3">biological process</tspan></text></g>
<g id="n129"><rect x="3942" y="265.5" width="105" height="41"/><text x="3994.5" y="283.7">response to<tspan x="3994.5" dy="12.3">organic substance</tspan></text></g>
<g id="n130"><rect x="4094" y="265.5" width="99" height="41"/><text x="4143.5" y="277.5">cellular response<tspan x="4143.5" dy="12.3">to chemical</tspan><tspan x="4143.5" dy="12.3">stimulus</tspan></text></g>
<g id="n131"><rect x="4241" y="265.5" width="121" height="41"/><text x="4301.5" y="283.7">response to<tspan x="4301.5" dy="12.3">endogenous stimulus</tspan></text></g>
<g id="n132"><rect x="4433" y="265.5" width="74" height="41"/><text x="4470" y="277.5">regulation of<tspan x="4470" dy="12.3">response to</tspan><tspan x="4470" dy="12.3">stimulus</tspan></text></g>
<g id="n133"><rect x="4633" y="265.5" width="60" height="41"/><text x="4663" y="289.8">signaling</text></g>
<g id="n134"><rect x="4758" y="265.5" width="112" height="41"/><text x="4814" y="277.5">negative regulation<tspan x="4814" dy="12.3">of biological</tspan><tspan x="4814" dy="12.3">process</tspan></text></g>
<g id="n135"><rect x="4977" y="265.5" width="113" height="41"/><text x="5033.5" y="289.8">cell communication</text></g>
<g id="n136"><rect x="5112" y="265.5" width="90" height="41"/><text x="5157" y="283.7">regulation of<tspan x="5157" dy="12.3">cellular process</tspan></text></g>
<g id="n137"><rect x="3884" y="372.5" width="118" height="41"/><text x="3943" y="390.7">cellular response<tspan x="3943" dy="12.3">to organic substance</tspan></text></g>
<g id="n138"><rect x="4024" y="372.5" width="69" height="41"/><text x="4058.5" y="390.7">response to<tspan x="4058.5" dy="12.3">cytokine</tspan></text></g>
<g id="n139"><rect x="4115" y="372.5" width="65" height="41"/><text x="4147.5" y="390.7">response to<tspan x="4147.5" dy="12.3">hormone</tspan></text></g>
<g id="n140"><rect x="4205" y="372.5" width="99" height="41"/><text x="4254.5" y="384.5">cellular response<tspan x="4254.5" dy="12.3">to endogenous</tspan><tspan x="4254.5" dy="12.3">stimulus</tspan></text></g>
<g id="n141"><rect x="4324" y="372.5" width="79" height="41"/><text x="4363.5" y="390.7">response to<tspan x="4363.5" dy="12.3">growth factor</tspan></text></g>
<g id="n142"><rect x="4467" y="372.5" width="113" height="41"/><text x="4523.5" y="384.5">negative regulation<tspan x="4523.5" dy="12.3">of response</tspan><tspan x="4523.5" dy="12.3">to stimulus</tspan></text></g>
<g id="n143"><rect x="4644" y="372.5" width="74" height="41"/><text x="4681" y="390.7">regulation of<tspan x="4681" dy="12.3">signaling</tspan></text></g>
<g id="n144"><rect x="4783" y="372.5" width="110" height="41"/><text x="4838" y="396.8">signal transduction</text></g>
<g id="n145"><rect x="5001" y="372.5" width="112" height="41"/><text x="5057" y="390.7">regulation of<tspan x="5057" dy="12.3">cell communication</tspan></text></g>
<g id="n146"><rect x="3889" y="481.5" width="100" height="41"/><text x="3939" y="499.7">cellular response<tspan x="3939" dy="12.3">to lipid</tspan></text></g>
<g id="n147"><rect class="l" x="4009" y="481.5" width="99" height="41"/><text x="4058.5" y="493.5">cellular response<tspan x="4058.5" dy="12.3">to cytokine</tspan><tspan x="4058.5" dy="12.3">stimulus</tspan></text></g>
<g id="n148"><rect x="4129" y="481.5" width="118" height="41"/><text x="4188" y="499.7">cellular response<tspan x="4188" dy="12.3">to hormone stimulus</tspan></text></g>
<g id="n149"><rect x="4269" y="481.5" width="98" height="41"/><text x="4318" y="493.5">cellular response<tspan x="4318" dy="12.3">to growth factor</tspan><tspan x="4318" dy="12.3">stimulus</tspan></text></g>
<g id="n150"><rect x="4389" y="474.5" width="79" height="55"/><text x="4428.5" y="487.4">response to<tspan x="4428.5" dy="12.3">transforming</tspan><tspan x="4428.5" dy="12.3">growth factor</tspan><tspan x="4428.5" dy="12.3">beta</tspan></text></g>
<g id="n151"><rect x="4531" y="481.5" width="113" height="41"/><text x="4587.5" y="499.7">negative regulation<tspan x="4587.5" dy="12.3">of signaling</tspan></text></g>
<g id="n152"><rect x="4707" y="481.5" width="110" height="41"/><text x="4762" y="499.7">regulation of<tspan x="4762" dy="12.3">signal transduction</tspan></text></g>
<g id="n153"><rect x="4925" y="481.5" width="104" height="41"/><text x="4977" y="493.5">cell surface<tspan x="4977" dy="12.3">receptor signaling</tspan><tspan x="4977" dy="12.3">pathway</tspan></text></g>
<g id="n154"><rect x="5093" y="481.5" width="127" height="41"/><text x="5156.5" y="499.7">negative regulation<tspan x="5156.5" dy="12.3">of cell communication</tspan></text></g>
<g id="n155"><rect x="3884" y="583.5" width="110" height="41"/><text x="3939" y="595.5">cellular response<tspan x="3939" dy="12.3">to steroid hormone</tspan><tspan x="3939" dy="12.3">stimulus</tspan></text></g>
<g id="n156"><rect x="4191" y="583.5" width="110" height="41"/><text x="4246" y="601.7">hormone-mediated<tspan x="4246" dy="12.3">signaling pathway</tspan></text></g>
<g id="n157"><rect x="4379" y="576.5" width="99" height="55"/><text x="4428.5" y="589.4">cellular response<tspan x="4428.5" dy="12.3">to transforming</tspan><tspan x="4428.5" dy="12.3">growth factor</tspan><tspan x="4428.5" dy="12.3">beta stimulus</tspan></text></g>
<g id="n158"><rect x="4718" y="583.5" width="124" height="41"/><text x="4780" y="601.7">negative regulation<tspan x="4780" dy="12.3">of signal transduction</tspan></text></g>
<g id="n159"><rect x="4922" y="583.5" width="107" height="41"/><text x="4975.5" y="595.5">enzyme-linked<tspan x="4975.5" dy="12.3">receptor protein</tspan><tspan x="4975.5" dy="12.3">signaling pathway</tspan></text></g>
<g id="n160"><rect x="4191" y="684.5" width="110" height="41"/><text x="4246" y="696.5">steroid hormone<tspan x="4246" dy="12.3">mediated signaling</tspan><tspan x="4246" dy="12.3">pathway</tspan></text></g>
<g id="n161"><rect x="4658" y="684.5" width="104" height="41"/><text x="4710" y="696.5">intracellular<tspan x="4710" dy="12.3">receptor signaling</tspan><tspan x="4710" dy="12.3">pathway</tspan></text></g>
<g id="n162"><rect x="4920" y="671" width="95" height="68"/><text x="4967.5" y="684.2">transmembrane<tspan x="4967.5" dy="12.3">receptor protein</tspan><tspan x="4967.5" dy="12.3">serine/threonine</tspan><tspan x="4967.5" dy="12.3">kinase signaling</tspan><tspan x="4967.5" dy="12.3">pathway</tspan></text></g>
<g id="n163"><rect x="4658" y="780.5" width="104" height="55"/><text x="4710" y="793.4">intracellular<tspan x="4710" dy="12.3">steroid hormone</tspan><tspan x="4710" dy="12.3">receptor signaling</tspan><tspan x="4710" dy="12.3">pathway</tspan></text></g>
<g id="n164"><rect class="c" x="4871" y="780.5" width="105" height="55"/><text x="4923.5" y="793.4">transforming<tspan x="4923.5" dy="12.3">growth factor</tspan><tspan x="4923.5" dy="12.3">beta receptor</tspan><tspan x="4923.5" dy="12.3">signaling pathway</tspan></text></g>
<g id="n165"><rect x="4487" y="888.5" width="105" height="41"/><text x="4539.5" y="906.7">androgen receptor<tspan x="4539.5" dy="12.3">signaling pathway</tspan></text></g>
<g id="n166"><rect x="4614" y="875" width="104" height="68"/><text x="4666" y="888.2">regulation of<tspan x="4666" dy="12.3">intracellular</tspan><tspan x="4666" dy="12.3">steroid hormone</tspan><tspan x="4666" dy="12.3">receptor signaling</tspan><tspan x="4666" dy="12.3">pathway</tspan></text></g>
<g id="n167"><rect x="4825" y="888.5" width="106" height="41"/><text x="4878" y="900.5">intracellular<tspan x="4878" dy="12.3">estrogen receptor</tspan><tspan x="4878" dy="12.3">signaling pathway</tspan></text></g>
<g id="n168"><rect x="4566" y="997.5" width="105" height="41"/><text x="4618.5" y="1009.5">regulation of<tspan x="4618.5" dy="12.3">androgen receptor</tspan><tspan x="4618.5" dy="12.3">signaling pathway</tspan></text></g>
<g id="n169"><rect x="4691" y="984" width="112" height="68"/><text x="4747" y="997.2">negative regulation<tspan x="4747" dy="12.3">of intracellular</tspan><tspan x="4747" dy="12.3">steroid hormone</tspan><tspan x="4747" dy="12.3">receptor signaling</tspan><tspan x="4747" dy="12.3">pathway</tspan></text></g>
<g id="n170"><rect x="4825" y="990.5" width="106" height="55"/><text x="4878" y="1003.4">regulation of<tspan x="4878" dy="12.3">intracellular</tspan><tspan x="4878" dy="12.3">estrogen receptor</tspan><tspan x="4878" dy="12.3">signaling pathway</tspan></text></g>
<g id="n171"><rect class="l" x="4562" y="1091.5" width="112" height="55"/><text x="4618" y="1104.4">negative regulation<tspan x="4618" dy="12.3">of androgen</tspan><tspan x="4618" dy="12.3">receptor signaling</tspan><tspan x="4618" dy="12.3">pathway</tspan></text></g>
<g id="n172"><rect class="l" x="4822" y="1091.5" width="112" height="55"/><text x="4878" y="1104.4">negative regulation<tspan x="4878" dy="12.3">of intracellular</tspan><tspan x="4878" dy="12.3">estrogen receptor</tspan><tspan x="4878" dy="12.3">signaling pathway</tspan></text></g>
<g id="n173"><rect x="5990" y="86.5" width="106" height="41"/><text x="6043" y="110.8">metabolic process</text></g>
<g id="n174"><rect x="6075" y="168.5" width="104" height="41"/><text x="6127" y="186.7">cellular metabolic<tspan x="6127" dy="12.3">process</tspan></text></g>
<g id="n175"><rect x="6200" y="168.5" width="111" height="41"/><text x="6255.5" y="186.7">nitrogen compound<tspan x="6255.5" dy="12.3">metabolic process</tspan></text></g>
<g id="n176"><rect x="5310" y="265.5" width="108" height="41"/><text x="5364" y="277.5">positive regulation<tspan x="5364" dy="12.3">of biological</tspan><tspan x="5364" dy="12.3">process</tspan></text></g>
<g id="n177"><rect x="5788" y="265.5" width="105" height="41"/><text x="5840.5" y="283.7">regulation of<tspan x="5840.5" dy="12.3">metabolic process</tspan></text></g>
<g id="n178"><rect x="5916" y="265.5" width="105" height="41"/><text x="5968.5" y="283.7">primary metabolic<tspan x="5968.5" dy="12.3">process</tspan></text></g>
<g id="n179"><rect x="6233" y="265.5" width="106" height="41"/><text x="6286" y="283.7">heterocycle<tspan x="6286" dy="12.3">metabolic process</tspan></text></g>
<g id="n180"><rect x="6360" y="265.5" width="122" height="41"/><text x="6421" y="277.5">cellular aromatic<tspan x="6421" dy="12.3">compound metabolic</tspan><tspan x="6421" dy="12.3">process</tspan></text></g>
<g id="n181"><rect x="5135" y="372.5" width="114" height="41"/><text x="5192" y="384.5">negative regulation<tspan x="5192" dy="12.3">of cellular</tspan><tspan x="5192" dy="12.3">process</tspan></text></g>
<g id="n182"><rect x="5269" y="372.5" width="109" height="41"/><text x="5323.5" y="384.5">positive regulation<tspan x="5323.5" dy="12.3">of cellular</tspan><tspan x="5323.5" dy="12.3">process</tspan></text></g>
<g id="n183"><rect x="5441" y="372.5" width="108" height="41"/><text x="5495" y="384.5">positive regulation<tspan x="5495" dy="12.3">of metabolic</tspan><tspan x="5495" dy="12.3">process</tspan></text></g>
<g id="n184"><rect x="5612" y="372.5" width="104" height="41"/><text x="5664" y="384.5">regulation of<tspan x="5664" dy="12.3">cellular metabolic</tspan><tspan x="5664" dy="12.3">process</tspan></text></g>
<g id="n185"><rect x="5738" y="372.5" width="110" height="41"/><text x="5793" y="384.5">regulation of<tspan x="5793" dy="12.3">nitrogen compound</tspan><tspan x="5793" dy="12.3">metabolic process</tspan></text></g>
<g id="n186"><rect x="5870" y="372.5" width="107" height="41"/><text x="5923.5" y="384.5">regulation of<tspan x="5923.5" dy="12.3">primary metabolic</tspan><tspan x="5923.5" dy="12.3">process</tspan></text></g>
<g id="n187"><rect x="5998" y="372.5" width="113" height="41"/><text x="6054.5" y="384.5">negative regulation<tspan x="6054.5" dy="12.3">of metabolic</tspan><tspan x="6054.5" dy="12.3">process</tspan></text></g>
<g id="n188"><rect x="6261" y="372.5" width="129" height="41"/><text x="6325.5" y="384.5">nucleobase-containing<tspan x="6325.5" dy="12.3">compound metabolic</tspan><tspan x="6325.5" dy="12.3">process</tspan></text></g>
<g id="n189"><rect x="5441" y="481.5" width="108" height="41"/><text x="5495" y="493.5">positive regulation<tspan x="5495" dy="12.3">of cellular</tspan><tspan x="5495" dy="12.3">metabolic process</tspan></text></g>
<g id="n190"><rect x="5612" y="481.5" width="114" height="41"/><text x="5669" y="493.5">negative regulation<tspan x="5669" dy="12.3">of cellular</tspan><tspan x="5669" dy="12.3">metabolic process</tspan></text></g>
<g id="n191"><rect x="5747" y="474.5" width="120" height="55"/><text x="5807" y="487.4">positive regulation<tspan x="5807" dy="12.3">of nitrogen</tspan><tspan x="5807" dy="12.3">compound metabolic</tspan><tspan x="5807" dy="12.3">process</tspan></text></g>
<g id="n192"><rect x="5888" y="474.5" width="130" height="55"/><text x="5953" y="487.4">regulation of<tspan x="5953" dy="12.3">nucleobase-containing</tspan><tspan x="5953" dy="12.3">compound metabolic</tspan><tspan x="5953" dy="12.3">process</tspan></text></g>
<g id="n193"><rect x="6042" y="474.5" width="120" height="55"/><text x="6102" y="487.4">negative regulation<tspan x="6102" dy="12.3">of nitrogen</tspan><tspan x="6102" dy="12.3">compound metabolic</tspan><tspan x="6102" dy="12.3">process</tspan></text></g>
<g id="n194"><rect x="6359" y="481.5" width="106" height="41"/><text x="6412" y="493.5">regulation of<tspan x="6412" dy="12.3">macromolecule</tspan><tspan x="6412" dy="12.3">metabolic process</tspan></text></g>
<g id="n195"><rect x="5849" y="576.5" width="144" height="55"/><text x="5921" y="589.4">positive regulation<tspan x="5921" dy="12.3">of nucleobase-containing</tspan><tspan x="5921" dy="12.3">compound metabolic</tspan><tspan x="5921" dy="12.3">process</tspan></text></g>
<g id="n196"><rect x="6057" y="576.5" width="145" height="55"/><text x="6129.5" y="589.4">negative regulation<tspan x="6129.5" dy="12.3">of nucleobase-containing</tspan><tspan x="6129.5" dy="12.3">compound metabolic</tspan><tspan x="6129.5" dy="12.3">process</tspan></text></g>
<g id="n197"><rect x="6330" y="583.5" width="107" height="41"/><text x="6383.5" y="595.5">positive regulation<tspan x="6383.5" dy="12.3">of macromolecule</tspan><tspan x="6383.5" dy="12.3">metabolic process</tspan></text></g>
<g id="n198"><rect x="5951" y="997.5" width="108" height="41"/><text x="6005" y="1015.7">regulation of<tspan x="6005" dy="12.3">molecular function</tspan></text></g>
<g id="n199"><rect x="5949" y="1098.5" width="112" height="41"/><text x="6005" y="1110.5">negative regulation<tspan x="6005" dy="12.3">of molecular</tspan><tspan x="6005" dy="12.3">function</tspan></text></g>
<g id="n200"><rect x="6082" y="1091.5" width="82" height="55"/><text x="6123" y="1104.4">regulation of<tspan x="6123" dy="12.3">DNA-binding</tspan><tspan x="6123" dy="12.3">transcription</tspan><tspan x="6123" dy="12.3">factor activity</tspan></text></g>
<g id="n201"><rect class="l" x="6009" y="1186.5" width="112" height="55"/><text x="6065" y="1199.4">negative regulation<tspan x="6065" dy="12.3">of DNA-binding</tspan><tspan x="6065" dy="12.3">transcription</tspan><tspan x="6065" dy="12.3">factor activity</tspan></text></g>
<g id="n202"><rect x="6766" y="168.5" width="105" height="41"/><text x="6818.5" y="186.7">organic substance<tspan x="6818.5" dy="12.3">metabolic process</tspan></text></g>
<g id="n203"><rect x="7024" y="168.5" width="73" height="41"/><text x="7060.5" y="186.7">biosynthetic<tspan x="7060.5" dy="12.3">process</tspan></text></g>
<g id="n204"><rect x="6502" y="265.5" width="119" height="41"/><text x="6561.5" y="277.5">cellular nitrogen<tspan x="6561.5" dy="12.3">compound metabolic</tspan><tspan x="6561.5" dy="12.3">process</tspan></text></g>
<g id="n205"><rect x="6643" y="265.5" width="119" height="41"/><text x="6702.5" y="277.5">organic cyclic<tspan x="6702.5" dy="12.3">compound metabolic</tspan><tspan x="6702.5" dy="12.3">process</tspan></text></g>
<g id="n206"><rect x="6785" y="265.5" width="116" height="41"/><text x="6843" y="283.7">cellular biosynthetic<tspan x="6843" dy="12.3">process</tspan></text></g>
<g id="n207"><rect x="6967" y="265.5" width="104" height="41"/><text x="7019" y="277.5">organic substance<tspan x="7019" dy="12.3">biosynthetic</tspan><tspan x="7019" dy="12.3">process</tspan></text></g>
<g id="n208"><rect x="6411" y="372.5" width="72" height="41"/><text x="6447" y="384.5">heterocycle<tspan x="6447" dy="12.3">biosynthetic</tspan><tspan x="6447" dy="12.3">process</tspan></text></g>
<g id="n209"><rect x="6506" y="372.5" width="114" height="41"/><text x="6563" y="384.5">aromatic compound<tspan x="6563" dy="12.3">biosynthetic</tspan><tspan x="6563" dy="12.3">process</tspan></text></g>
<g id="n210"><rect x="6642" y="372.5" width="134" height="41"/><text x="6709" y="384.5">cellular nitrogen<tspan x="6709" dy="12.3">compound biosynthetic</tspan><tspan x="6709" dy="12.3">process</tspan></text></g>
<g id="n211"><rect x="6797" y="372.5" width="134" height="41"/><text x="6864" y="384.5">organic cyclic<tspan x="6864" dy="12.3">compound biosynthetic</tspan><tspan x="6864" dy="12.3">process</tspan></text></g>
<g id="n212"><rect x="6997" y="372.5" width="74" height="41"/><text x="7034" y="384.5">regulation of<tspan x="7034" dy="12.3">biosynthetic</tspan><tspan x="7034" dy="12.3">process</tspan></text></g>
<g id="n213"><rect x="7264" y="372.5" width="106" height="41"/><text x="7317" y="390.7">macromolecule<tspan x="7317" dy="12.3">metabolic process</tspan></text></g>
<g id="n214"><rect x="6488" y="481.5" width="131" height="41"/><text x="6553.5" y="493.5">nucleobase-containing<tspan x="6553.5" dy="12.3">compound biosynthetic</tspan><tspan x="6553.5" dy="12.3">process</tspan></text></g>
<g id="n215"><rect x="6642" y="481.5" width="109" height="41"/><text x="6696.5" y="493.5">positive regulation<tspan x="6696.5" dy="12.3">of biosynthetic</tspan><tspan x="6696.5" dy="12.3">process</tspan></text></g>
<g id="n216"><rect x="6814" y="481.5" width="117" height="41"/><text x="6872.5" y="493.5">regulation of<tspan x="6872.5" dy="12.3">cellular biosynthetic</tspan><tspan x="6872.5" dy="12.3">process</tspan></text></g>
<g id="n217"><rect x="6995" y="481.5" width="113" height="41"/><text x="7051.5" y="493.5">negative regulation<tspan x="7051.5" dy="12.3">of biosynthetic</tspan><tspan x="7051.5" dy="12.3">process</tspan></text></g>
<g id="n218"><rect x="7214" y="481.5" width="107" height="41"/><text x="7267.5" y="499.7">nucleic acid<tspan x="7267.5" dy="12.3">metabolic process</tspan></text></g>
<g id="n219"><rect x="7384" y="481.5" width="90" height="41"/><text x="7429" y="493.5">macromolecule<tspan x="7429" dy="12.3">biosynthetic</tspan><tspan x="7429" dy="12.3">process</tspan></text></g>
<g id="n220"><rect x="7495" y="481.5" width="96" height="41"/><text x="7543" y="505.8">gene expression</text></g>
<g id="n221"><rect x="6460" y="583.5" width="112" height="41"/><text x="6516" y="595.5">negative regulation<tspan x="6516" dy="12.3">of macromolecule</tspan><tspan x="6516" dy="12.3">metabolic process</tspan></text></g>
<g id="n222"><rect x="6636" y="576.5" width="90" height="55"/><text x="6681" y="589.4">regulation of<tspan x="6681" dy="12.3">macromolecule</tspan><tspan x="6681" dy="12.3">biosynthetic</tspan><tspan x="6681" dy="12.3">process</tspan></text></g>
<g id="n223"><rect x="6789" y="576.5" width="109" height="55"/><text x="6843.5" y="589.4">positive regulation<tspan x="6843.5" dy="12.3">of cellular</tspan><tspan x="6843.5" dy="12.3">biosynthetic</tspan><tspan x="6843.5" dy="12.3">process</tspan></text></g>
<g id="n224"><rect x="6961" y="576.5" width="113" height="55"/><text x="7017.5" y="589.4">negative regulation<tspan x="7017.5" dy="12.3">of cellular</tspan><tspan x="7017.5" dy="12.3">biosynthetic</tspan><tspan x="7017.5" dy="12.3">process</tspan></text></g>
<g id="n225"><rect x="7224" y="583.5" width="87" height="41"/><text x="7267.5" y="601.7">RNA metabolic<tspan x="7267.5" dy="12.3">process</tspan></text></g>
<g id="n226"><rect x="7419" y="583.5" width="95" height="41"/><text x="7466.5" y="601.7">regulation of<tspan x="7466.5" dy="12.3">gene expression</tspan></text></g>
<g id="n227"><rect x="6473" y="684.5" width="87" height="41"/><text x="6516.5" y="696.5">regulation of<tspan x="6516.5" dy="12.3">RNA metabolic</tspan><tspan x="6516.5" dy="12.3">process</tspan></text></g>
<g id="n228"><rect x="6627" y="677.5" width="109" height="55"/><text x="6681.5" y="690.4">positive regulation<tspan x="6681.5" dy="12.3">of macromolecule</tspan><tspan x="6681.5" dy="12.3">biosynthetic</tspan><tspan x="6681.5" dy="12.3">process</tspan></text></g>
<g id="n229"><rect x="6954" y="677.5" width="113" height="55"/><text x="7010.5" y="690.4">negative regulation<tspan x="7010.5" dy="12.3">of macromolecule</tspan><tspan x="7010.5" dy="12.3">biosynthetic</tspan><tspan x="7010.5" dy="12.3">process</tspan></text></g>
<g id="n230"><rect x="7217" y="684.5" width="101" height="41"/><text x="7267.5" y="702.7">RNA biosynthetic<tspan x="7267.5" dy="12.3">process</tspan></text></g>
<g id="n231"><rect x="6436" y="787.5" width="108" height="41"/><text x="6490" y="799.5">positive regulation<tspan x="6490" dy="12.3">of RNA metabolic</tspan><tspan x="6490" dy="12.3">process</tspan></text></g>
<g id="n232"><rect x="6565" y="787.5" width="113" height="41"/><text x="6621.5" y="799.5">negative regulation<tspan x="6621.5" dy="12.3">of RNA metabolic</tspan><tspan x="6621.5" dy="12.3">process</tspan></text></g>
<g id="n233"><rect x="6873" y="787.5" width="99" height="41"/><text x="6922.5" y="799.5">regulation of<tspan x="6922.5" dy="12.3">RNA biosynthetic</tspan><tspan x="6922.5" dy="12.3">process</tspan></text></g>
<g id="n234"><rect x="7282" y="787.5" width="131" height="41"/><text x="7347.5" y="805.7">nucleic acid-templated<tspan x="7347.5" dy="12.3">transcription</tspan></text></g>
<g id="n235"><rect x="6816" y="888.5" width="114" height="41"/><text x="6873" y="900.5">positive regulation<tspan x="6873" dy="12.3">of RNA biosynthetic</tspan><tspan x="6873" dy="12.3">process</tspan></text></g>
<g id="n236"><rect x="6987" y="888.5" width="113" height="41"/><text x="7043.5" y="900.5">negative regulation<tspan x="7043.5" dy="12.3">of RNA biosynthetic</tspan><tspan x="7043.5" dy="12.3">process</tspan></text></g>
<g id="n237"><rect x="7184" y="888.5" width="132" height="41"/><text x="7250" y="900.5">regulation of<tspan x="7250" dy="12.3">nucleic acid-templated</tspan><tspan x="7250" dy="12.3">transcription</tspan></text></g>
<g id="n238"><rect x="7478" y="888.5" width="89" height="41"/><text x="7522.5" y="906.7">DNA-templated<tspan x="7522.5" dy="12.3">transcription</tspan></text></g>
<g id="n239"><rect x="7024" y="997.5" width="145" height="41"/><text x="7096.5" y="1009.5">positive regulation<tspan x="7096.5" dy="12.3">of nucleic acid-templated</tspan><tspan x="7096.5" dy="12.3">transcription</tspan></text></g>
<g id="n240"><rect x="7190" y="997.5" width="146" height="41"/><text x="7263" y="1009.5">negative regulation<tspan x="7263" dy="12.3">of nucleic acid-templated</tspan><tspan x="7263" dy="12.3">transcription</tspan></text></g>
<g id="n241"><rect class="l" x="7357" y="997.5" width="91" height="41"/><text x="7402.5" y="1009.5">regulation of<tspan x="7402.5" dy="12.3">DNA-templated</tspan><tspan x="7402.5" dy="12.3">transcription</tspan></text></g>
<g id="n242"><rect x="7554" y="997.5" width="114" height="41"/><text x="7611" y="1009.5">transcription<tspan x="7611" dy="12.3">by RNA polymerase</tspan><tspan x="7611" dy="12.3">II</tspan></text></g>
<g id="n243"><rect class="c" x="7232" y="1098.5" width="109" height="41"/><text x="7286.5" y="1110.5">positive regulation<tspan x="7286.5" dy="12.3">of DNA-templated</tspan><tspan x="7286.5" dy="12.3">transcription</tspan></text></g>
<g id="n244"><rect x="7361" y="1098.5" width="113" height="41"/><text x="7417.5" y="1110.5">negative regulation<tspan x="7417.5" dy="12.3">of DNA-templated</tspan><tspan x="7417.5" dy="12.3">transcription</tspan></text></g>
<g id="n245"><rect class="c" x="7538" y="1091.5" width="114" height="55"/><text x="7595" y="1104.4">regulation of<tspan x="7595" dy="12.3">transcription</tspan><tspan x="7595" dy="12.3">by RNA polymerase</tspan><tspan x="7595" dy="12.3">II</tspan></text></g>
<g id="n246"><rect class="c" x="7427" y="1186.5" width="113" height="55"/><text x="7483.5" y="1199.4">positive regulation<tspan x="7483.5" dy="12.3">of transcription</tspan><tspan x="7483.5" dy="12.3">by RNA polymerase</tspan><tspan x="7483.5" dy="12.3">II</tspan></text></g>
<g id="n247"><rect class="c" x="7561" y="1186.5" width="114" height="55"/><text x="7618" y="1199.4">negative regulation<tspan x="7618" dy="12.3">of transcription</tspan><tspan x="7618" dy="12.3">by RNA polymerase</tspan><tspan x="7618" dy="12.3">II</tspan></text></g>
</svg>
